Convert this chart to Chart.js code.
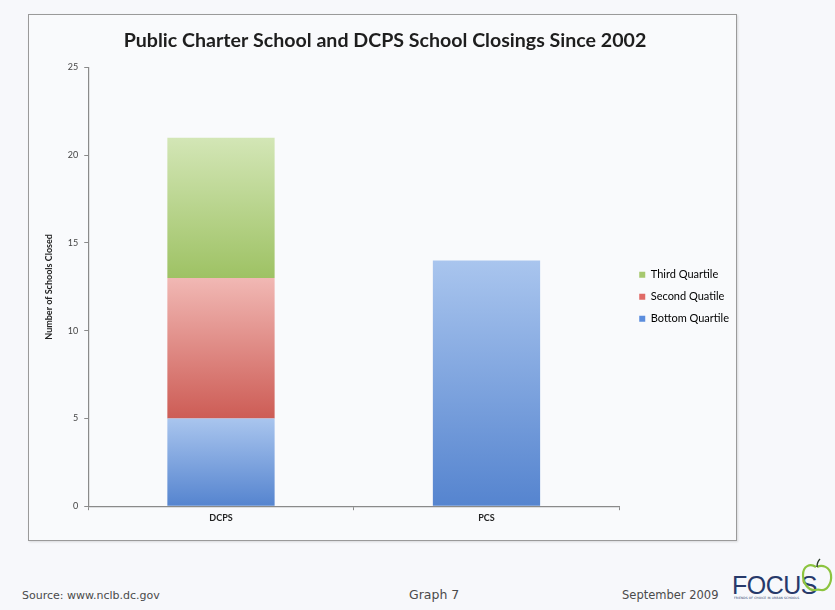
<!DOCTYPE html>
<html>
<head>
<meta charset="utf-8">
<script src="https://cdn.jsdelivr.net/npm/chart.js@4"></script>
<style>
  html, body { margin: 0; padding: 0; }
  body { width: 835px; height: 610px; background: #f7f8fb; position: relative; overflow: hidden; font-family: "DejaVu Sans", sans-serif; }
  #frame { position: absolute; left: 28px; top: 14px; width: 709px; height: 527px; box-sizing: border-box;
           border: 1.5px solid #9a9a9a; background: #f9fafc; box-shadow: 1px 1px 2px rgba(0,0,0,0.12); }
  #frame canvas { position: absolute; left: -1.5px; top: -1.5px; }
  .foot { position: absolute; color: #4a4a4a; white-space: nowrap; }
  #source { left: 22px; top: 589px; font-size: 11px; }
  #graph { left: 409px; top: 587px; font-size: 12.5px; }
  #date { left: 622px; top: 588px; font-size: 11.5px; }
  #logo { position: absolute; left: 732px; top: 571px; font-family: "Liberation Sans", sans-serif; font-size: 25px; color: #27396a; letter-spacing: -0.5px; }
  #tag { position: absolute; left: 734px; top: 596px; width: 86px; font-size: 3px; color: #27396a; letter-spacing: 0.1px; white-space: nowrap; overflow: hidden; }
  #apple { position: absolute; left: 800px; top: 558px; }
</style>
</head>
<body>
<div id="frame"><canvas id="chart" width="709" height="527"></canvas></div>
<div class="foot" id="source">Source: www.nclb.dc.gov</div>
<div class="foot" id="graph">Graph 7</div>
<div class="foot" id="date">September 2009</div>
<div id="logo">FOCUS</div>
<div id="tag">FRIENDS OF CHOICE IN URBAN SCHOOLS</div>
<svg id="apple" width="34" height="36" viewBox="0 0 34 36">
  <path d="M16 9 C 10 5, 3 8, 3 17 C 3 26, 9 33, 15 32 C 17 31.5, 19 31.5, 21 32 C 27 33, 32 25, 31 17 C 30 9, 22 6, 17 9"
        fill="none" stroke="#8cc43f" stroke-width="2.2"/>
  <path d="M17 9 C 17 6, 18 3, 20 1" fill="none" stroke="#2a3a2a" stroke-width="1.4"/>
</svg>
<script>
// categories and values (number of schools closed)
const schools = ['DCPS', 'PCS'];
const bottomQuartile = [5, 14];
const secondQuartile = [8, null];
const thirdQuartile = [8, null];
const yTicks = [0, 5, 10, 15, 20, 25];

// [top colour, bottom colour] of each segment's vertical gradient
const shades = [
  ['#a9c5ee', '#5584cf'],
  ['#f1b8b4', '#cd5c55'],
  ['#d3e6b6', '#9ec264']
];
const legendColors = ['#5b8ddd', '#e06a66', '#a6c86e'];

const seriesList = [bottomQuartile, secondQuartile, thirdQuartile];

// gradient spans one segment, from its stacked base to its top
function segmentFill(ctx) {
  const chart = ctx.chart;
  const ds = ctx.datasetIndex;
  if (!chart.chartArea || ctx.type !== 'data') return shades[ds][1];
  const i = ctx.dataIndex;
  let base = 0;
  for (let k = 0; k < ds; k++) base += seriesList[k][i] || 0;
  const top = base + (seriesList[ds][i] || 0);
  const y = chart.scales.y;
  const y0 = y.getPixelForValue(top);
  const y1 = y.getPixelForValue(base);
  if (!isFinite(y0) || !isFinite(y1) || y0 === y1) return shades[ds][1];
  const g = chart.ctx.createLinearGradient(0, y0, 0, y1);
  g.addColorStop(0, shades[ds][0]);
  g.addColorStop(1, shades[ds][1]);
  return g;
}

// move the legend block a little away from the plot and lower down
const legendNudge = {
  id: 'legendNudge',
  afterLayout(chart) {
    const l = chart.legend;
    if (!l) return;
    l.left += 9; l.right += 9;
    l.top += 10; l.bottom += 10;
  }
};

const labelFont = 'Lato, "Open Sans", sans-serif';

new Chart(document.getElementById('chart'), {
  type: 'bar',
  data: {
    labels: schools,
    datasets: [
      { label: 'Bottom Quartile', data: bottomQuartile },
      { label: 'Second Quatile', data: secondQuartile },
      { label: 'Third Quartile', data: thirdQuartile }
    ].map(d => Object.assign(d, {
      backgroundColor: segmentFill,
      borderWidth: 0,
      categoryPercentage: 1,
      barPercentage: 0.404
    }))
  },
  plugins: [legendNudge],
  options: {
    responsive: false,
    animation: false,
    layout: { padding: { left: 12, right: 7, top: 0, bottom: 16 } },
    plugins: {
      title: {
        display: true,
        text: 'Public Charter School and DCPS School Closings Since 2002',
        color: '#1e1e1e',
        font: { family: labelFont, size: 19.6, weight: 'bold' },
        padding: { top: 15, bottom: 15 }
      },
      legend: {
        position: 'right',
        fullSize: false,
        reverse: true,
        labels: {
          boxWidth: 6,
          boxHeight: 6,
          padding: 11,
          color: '#333',
          font: { family: labelFont, size: 11 },
          generateLabels: chart => chart.data.datasets.map((d, i) => ({
            text: d.label,
            fillStyle: legendColors[i],
            strokeStyle: legendColors[i],
            lineWidth: 0,
            hidden: false,
            datasetIndex: i
          }))
        }
      },
      tooltip: { enabled: false }
    },
    scales: {
      x: {
        stacked: true,
        border: { color: '#8a8a8a', width: 1.2 },
        grid: { drawOnChartArea: false, drawTicks: true, tickLength: 4, color: '#8a8a8a' },
        ticks: { color: '#222', padding: 2, font: { family: labelFont, size: 9, weight: 'bold' } }
      },
      y: {
        stacked: true,
        min: 0,
        max: 25,
        afterBuildTicks: axis => { axis.ticks = yTicks.map(v => ({ value: v })); },
        border: { color: '#8a8a8a', width: 1.2 },
        grid: { drawOnChartArea: false, drawTicks: true, tickLength: 4, color: '#8a8a8a' },
        ticks: { color: '#444', padding: 6, font: { family: labelFont, size: 9 } },
        title: {
          display: true,
          text: 'Number of Schools Closed',
          color: '#222',
          font: { family: labelFont, size: 9, weight: 'bold' },
          padding: { top: 4, bottom: 7 }
        }
      }
    }
  }
});
</script>
</body>
</html>
